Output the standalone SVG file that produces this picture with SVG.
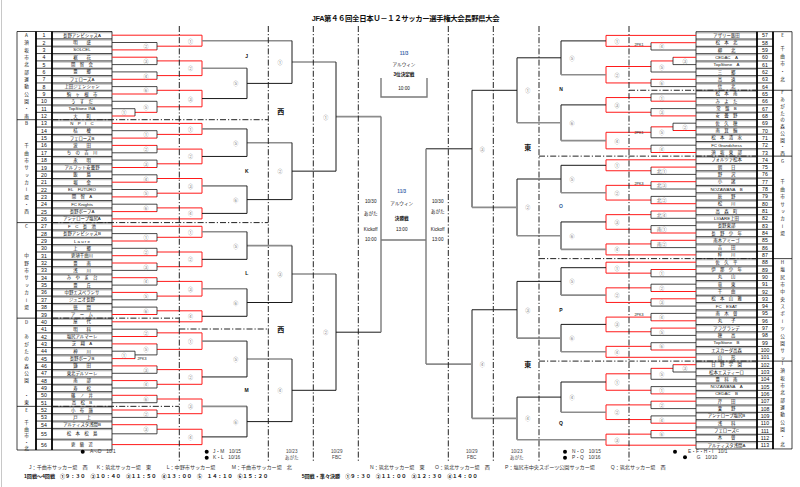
<svg xmlns="http://www.w3.org/2000/svg" width="800" height="487" viewBox="0 0 800 487">
<defs>
<style>
text{font-family:"Liberation Sans","Noto Sans CJK JP",sans-serif;fill:#111}
.no{font-size:5.2px;text-anchor:middle;dominant-baseline:central}
.nm{font-size:4.4px;text-anchor:middle;dominant-baseline:central}
.ml{font-size:5px;text-anchor:middle;dominant-baseline:central;fill:#7a7a7a}
.bl{font-size:5px;font-weight:bold;text-anchor:middle;dominant-baseline:central}
.ks{font-size:7px;font-weight:bold;text-anchor:middle;dominant-baseline:central}
.vt{font-family:"Noto Sans CJK JP",sans-serif;font-size:4.6px;writing-mode:vertical-rl;text-orientation:upright}
.pk{font-size:3.6px;text-anchor:middle;dominant-baseline:central}
.ct{font-size:4.6px;text-anchor:middle;dominant-baseline:central}
.sm{font-size:4.8px;dominant-baseline:central;fill:#333}
.ft{font-size:5.1px;fill:#333}
.fb{font-size:5.1px;font-weight:bold}
.w{fill:none;stroke:#ff1a1a;stroke-width:1}
.l{fill:none;stroke:#1a1a1a;stroke-width:0.8}
.k{fill:none;stroke:#1a1a1a;stroke-width:1}
.g{fill:none;stroke:#8c8c8c;stroke-width:1.6}
.c{fill:none;stroke:#7a7a7a;stroke-width:1.4}
.dd{fill:none;stroke:#222;stroke-width:1;stroke-dasharray:6 2 1.2 2}
.tb{fill:none;stroke:#111;stroke-width:0.8}
.ts{fill:none;stroke:#a8a8a8;stroke-width:0.9}
.tk{fill:none;stroke:#000;stroke-width:1.8}
</style>
</defs>
<rect width="800" height="487" fill="#fff"/>
<path d="M1.5 0V487" stroke="#c8c8c8" stroke-width="1"/>
<text x="311.7" y="21.3" font-size="7.4" font-weight="bold" textLength="188">JFA第４６回全日本Ｕ－１２サッカー選手権大会長野県大会</text>

<g id="table-left">
<path class="ts" transform="translate(0 1.2)" d="M52 31.5H112M52 38.85H112M52 46.2H112M52 53.55H112M52 60.9H112M52 68.25H112M52 75.6H112M52 82.95H112M52 90.3H112M52 97.65H112M52 105H112M52 112.35H112M52 119.7H112M52 127.05H112M52 134.4H112M52 141.75H112M52 149.1H112M52 156.45H112M52 163.8H112M52 171.15H112M52 178.5H112M52 185.85H112M52 193.2H112M52 200.55H112M52 207.9H112M52 215.25H112M52 222.6H112M52 229.95H112M52 237.3H112M52 244.65H112M52 252H112M52 259.35H112M52 266.7H112M52 274.05H112M52 281.4H112M52 288.75H112M52 296.1H112M52 303.45H112M52 310.8H112M52 318.15H112M52 325.5H112M52 332.85H112M52 340.2H112M52 347.55H112M52 354.9H112M52 362.25H112M52 369.6H112M52 376.95H112M52 384.3H112M52 391.65H112M52 399H112M52 406.35H112M52 413.7H112M52 421.05H112M52 428.4H112M52 439.2H112"/>
<path class="tb" d="M36 31.5H112M36 38.85H112M36 46.2H112M36 53.55H112M36 60.9H112M36 68.25H112M36 75.6H112M36 82.95H112M36 90.3H112M36 97.65H112M36 105H112M36 112.35H112M36 119.7H112M36 127.05H112M36 134.4H112M36 141.75H112M36 149.1H112M36 156.45H112M36 163.8H112M36 171.15H112M36 178.5H112M36 185.85H112M36 193.2H112M36 200.55H112M36 207.9H112M36 215.25H112M36 222.6H112M36 229.95H112M36 237.3H112M36 244.65H112M36 252H112M36 259.35H112M36 266.7H112M36 274.05H112M36 281.4H112M36 288.75H112M36 296.1H112M36 303.45H112M36 310.8H112M36 318.15H112M36 325.5H112M36 332.85H112M36 340.2H112M36 347.55H112M36 354.9H112M36 362.25H112M36 369.6H112M36 376.95H112M36 384.3H112M36 391.65H112M36 399H112M36 406.35H112M36 413.7H112M36 421.05H112M36 428.4H112M36 439.2H112M36 450H112M17 31.5H36M17 119.7H36M17 222.6H36M17 318.15H36M17 406.35H36M17 450H36M17 31.5V450M112 31.5V450"/>
<path class="tk" d="M36 31.5V450M52 31.5V450"/>
<text class="vt" x="26.5" y="32.9" letter-spacing="2.75">A須坂市北部運動公園・南</text>
<text class="vt" x="26.5" y="121.1" letter-spacing="2.75">B　　千曲市サッカー場・西</text>
<text class="vt" x="26.5" y="224" letter-spacing="2.75">C　　　中野市サッカー場</text>
<text class="vt" x="26.5" y="319.5" letter-spacing="2.75">D　あがたの森公園　・東</text>
<text class="vt" x="26.5" y="407.7">E</text>
<text class="vt" x="26.5" y="420.4" letter-spacing="1.9">千曲市・北</text>
</g>

<g id="table-right">
<path class="ts" transform="translate(0 1.2)" d="M696 31.7H757M696 39.02H757M696 46.34H757M696 53.66H757M696 60.98H757M696 68.3H757M696 75.62H757M696 82.94H757M696 90.26H757M696 97.58H757M696 104.9H757M696 112.22H757M696 119.54H757M696 126.86H757M696 134.18H757M696 141.5H757M696 148.82H757M696 156.14H757M696 163.46H757M696 170.78H757M696 178.1H757M696 185.42H757M696 192.74H757M696 200.06H757M696 207.38H757M696 214.7H757M696 222.02H757M696 229.34H757M696 236.66H757M696 243.98H757M696 251.3H757M696 258.62H757M696 265.94H757M696 273.26H757M696 280.58H757M696 287.9H757M696 295.22H757M696 302.54H757M696 309.86H757M696 317.18H757M696 324.5H757M696 331.82H757M696 339.14H757M696 346.46H757M696 353.78H757M696 361.1H757M696 368.42H757M696 375.74H757M696 383.06H757M696 390.38H757M696 397.7H757M696 405.02H757M696 412.34H757M696 419.66H757M696 426.98H757M696 434.3H757M696 441.62H757"/>
<path class="tb" d="M696 31.7H773M696 39.02H773M696 46.34H773M696 53.66H773M696 60.98H773M696 68.3H773M696 75.62H773M696 82.94H773M696 90.26H773M696 97.58H773M696 104.9H773M696 112.22H773M696 119.54H773M696 126.86H773M696 134.18H773M696 141.5H773M696 148.82H773M696 156.14H773M696 163.46H773M696 170.78H773M696 178.1H773M696 185.42H773M696 192.74H773M696 200.06H773M696 207.38H773M696 214.7H773M696 222.02H773M696 229.34H773M696 236.66H773M696 243.98H773M696 251.3H773M696 258.62H773M696 265.94H773M696 273.26H773M696 280.58H773M696 287.9H773M696 295.22H773M696 302.54H773M696 309.86H773M696 317.18H773M696 324.5H773M696 331.82H773M696 339.14H773M696 346.46H773M696 353.78H773M696 361.1H773M696 368.42H773M696 375.74H773M696 383.06H773M696 390.38H773M696 397.7H773M696 405.02H773M696 412.34H773M696 419.66H773M696 426.98H773M696 434.3H773M696 441.62H773M696 448.94H773M773 31.7H792M773 90.26H792M773 156.14H792M773 258.62H792M773 361.1H792M773 448.94H792M792 31.7V448.94M696 31.7V448.94"/>
<path class="tk" d="M757 31.7V448.94M773 31.7V448.94"/>
<text class="vt" x="782.5" y="33.1">E</text>
<text class="vt" x="782.5" y="46" letter-spacing="3.1">千曲市・北</text>
<text class="vt" x="782.5" y="90.4" letter-spacing="2.14">Fあがたの森公園・西</text>
<text class="vt" x="782.5" y="158.7">G</text>
<text class="vt" x="782.5" y="179.4" letter-spacing="2.77">千曲市サッカー場</text>
<text class="vt" x="782.5" y="260" letter-spacing="2.75">H塩尻市中央スポーツ公園サッ</text>
<text class="vt" x="782.5" y="361" letter-spacing="2.74">I須坂市北部運動公園・北</text>
</g>

<g id="teams-left">
<g id="t1" transform="translate(0 35.2)"><text class="no" x="44">1</text><text class="nm" x="82">長野アンビシャスA</text></g>
<g id="t2" transform="translate(0 42.5)"><text class="no" x="44">2</text><text class="nm" x="82">明　　盛</text></g>
<g id="t3" transform="translate(0 49.9)"><text class="no" x="44">3</text><text class="nm" x="82">SOLCEL</text></g>
<g id="t4" transform="translate(0 57.2)"><text class="no" x="44">4</text><text class="nm" x="82">裾　　花</text></g>
<g id="t5" transform="translate(0 64.6)"><text class="no" x="44">5</text><text class="nm" x="82">開　智　会</text></g>
<g id="t6" transform="translate(0 71.9)"><text class="no" x="44">6</text><text class="nm" x="82">豊　　郷</text></g>
<g id="t7" transform="translate(0 79.3)"><text class="no" x="44">7</text><text class="nm" x="82">フェローズA</text></g>
<g id="t8" transform="translate(0 86.6)"><text class="no" x="44">8</text><text class="nm" x="82">上田ジェンシャン</text></g>
<g id="t9" transform="translate(0 94)"><text class="no" x="44">9</text><text class="nm" x="82">駒　ヶ　根　市</text></g>
<g id="t10" transform="translate(0 101.3)"><text class="no" x="44">10</text><text class="nm" x="82">う　す　だ</text></g>
<g id="t11" transform="translate(0 108.7)"><text class="no" x="44">11</text><text class="nm" x="82">TopStone INA</text></g>
<g id="t12" transform="translate(0 116)"><text class="no" x="44">12</text><text class="nm" x="82">大　　町</text></g>
<g id="t13" transform="translate(0 123.4)"><text class="no" x="44">13</text><text class="nm" x="82">N　P　I　C</text></g>
<g id="t14" transform="translate(0 130.7)"><text class="no" x="44">14</text><text class="nm" x="82">桔　　梗</text></g>
<g id="t15" transform="translate(0 138.1)"><text class="no" x="44">15</text><text class="nm" x="82">フェローズB</text></g>
<g id="t16" transform="translate(0 145.4)"><text class="no" x="44">16</text><text class="nm" x="82">波　　田</text></g>
<g id="t17" transform="translate(0 152.8)"><text class="no" x="44">17</text><text class="nm" x="82">ち　の　吉　川</text></g>
<g id="t18" transform="translate(0 160.1)"><text class="no" x="44">18</text><text class="nm" x="82">永　　明</text></g>
<g id="t19" transform="translate(0 167.5)"><text class="no" x="44">19</text><text class="nm" x="82">アルフット安曇野</text></g>
<g id="t20" transform="translate(0 174.8)"><text class="no" x="44">20</text><text class="nm" x="82">飯　　島</text></g>
<g id="t21" transform="translate(0 182.2)"><text class="no" x="44">21</text><text class="nm" x="82">堀　　金</text></g>
<g id="t22" transform="translate(0 189.5)"><text class="no" x="44">22</text><text class="nm" x="82">EL　FUTURO</text></g>
<g id="t23" transform="translate(0 196.9)"><text class="no" x="44">23</text><text class="nm" x="82">開　智　A</text></g>
<g id="t24" transform="translate(0 204.2)"><text class="no" x="44">24</text><text class="nm" x="82">FC Knights</text></g>
<g id="t25" transform="translate(0 211.6)"><text class="no" x="44">25</text><text class="nm" x="82">長野ボーフA</text></g>
<g id="t26" transform="translate(0 218.9)"><text class="no" x="44">26</text><text class="nm" x="82">アンテロープ塩尻A</text></g>
<g id="t27" transform="translate(0 226.3)"><text class="no" x="44">27</text><text class="nm" x="82">F　C　長　池</text></g>
<g id="t28" transform="translate(0 233.6)"><text class="no" x="44">28</text><text class="nm" x="82">長野アンビシャスB</text></g>
<g id="t29" transform="translate(0 241)"><text class="no" x="44">29</text><text class="nm" x="82">L a u r e</text></g>
<g id="t30" transform="translate(0 248.3)"><text class="no" x="44">30</text><text class="nm" x="82">上　　郷</text></g>
<g id="t31" transform="translate(0 255.7)"><text class="no" x="44">31</text><text class="nm" x="82">更埴千曲川</text></g>
<g id="t32" transform="translate(0 263)"><text class="no" x="44">32</text><text class="nm" x="82">豊　　南</text></g>
<g id="t33" transform="translate(0 270.4)"><text class="no" x="44">33</text><text class="nm" x="82">浅　　川</text></g>
<g id="t34" transform="translate(0 277.7)"><text class="no" x="44">34</text><text class="nm" x="82">み　や　ま　台</text></g>
<g id="t35" transform="translate(0 285.1)"><text class="no" x="44">35</text><text class="nm" x="82">豊　　丘</text></g>
<g id="t36" transform="translate(0 292.4)"><text class="no" x="44">36</text><text class="nm" x="82">中野エスペランサ</text></g>
<g id="t37" transform="translate(0 299.8)"><text class="no" x="44">37</text><text class="nm" x="82">ジュニオ長野</text></g>
<g id="t38" transform="translate(0 307.1)"><text class="no" x="44">38</text><text class="nm" x="82">徳　　間</text></g>
<g id="t39" transform="translate(0 314.5)"><text class="no" x="44">39</text><text class="nm" x="82">ア　ー　ム</text></g>
<g id="t40" transform="translate(0 321.8)"><text class="no" x="44">40</text><text class="nm" x="82">屋　　代</text></g>
<g id="t41" transform="translate(0 329.2)"><text class="no" x="44">41</text><text class="nm" x="82">明　　科</text></g>
<g id="t42" transform="translate(0 336.5)"><text class="no" x="44">42</text><text class="nm" x="82">塩尻アルマーレ</text></g>
<g id="t43" transform="translate(0 343.9)"><text class="no" x="44">43</text><text class="nm" x="82">芝　翔　A</text></g>
<g id="t44" transform="translate(0 351.2)"><text class="no" x="44">44</text><text class="nm" x="82">神　　川</text></g>
<g id="t45" transform="translate(0 358.6)"><text class="no" x="44">45</text><text class="nm" x="82">長野ボーフB</text></g>
<g id="t46" transform="translate(0 365.9)"><text class="no" x="44">46</text><text class="nm" x="82">鎌　　田</text></g>
<g id="t47" transform="translate(0 373.3)"><text class="no" x="44">47</text><text class="nm" x="82">東北デルソーレ</text></g>
<g id="t48" transform="translate(0 380.6)"><text class="no" x="44">48</text><text class="nm" x="82">南　　部</text></g>
<g id="t49" transform="translate(0 388)"><text class="no" x="44">49</text><text class="nm" x="82">寿　　松</text></g>
<g id="t50" transform="translate(0 395.3)"><text class="no" x="44">50</text><text class="nm" x="82">篠　ノ　井</text></g>
<g id="t51" transform="translate(0 402.7)"><text class="no" x="44">51</text><text class="nm" x="82">高　松　B</text></g>
<g id="t52" transform="translate(0 410)"><text class="no" x="44">52</text><text class="nm" x="82">小　布　施</text></g>
<g id="t53" transform="translate(0 417.4)"><text class="no" x="44">53</text><text class="nm" x="82">戸　　上</text></g>
<g id="t54" transform="translate(0 424.7)"><text class="no" x="44">54</text><text class="nm" x="82">アルティスタ浅間B</text></g>
<g id="t55" transform="translate(0 433.8)"><text class="no" x="44">55</text><text class="nm" x="82">松　本　松　島</text></g>
<g id="t56" transform="translate(0 444.6)"><text class="no" x="44">56</text><text class="nm" x="82">更　級　近</text></g>
</g>

<g id="teams-right">
<g id="t57" transform="translate(0 35.4)"><text class="no" x="765">57</text><text class="nm" x="726.5">アザリー飯田</text></g>
<g id="t58" transform="translate(0 42.7)"><text class="no" x="765">58</text><text class="nm" x="726.5">松　本　北</text></g>
<g id="t59" transform="translate(0 50)"><text class="no" x="765">59</text><text class="nm" x="726.5">柳　　北</text></g>
<g id="t60" transform="translate(0 57.3)"><text class="no" x="765">60</text><text class="nm" x="726.5">CEDAC　A</text></g>
<g id="t61" transform="translate(0 64.6)"><text class="no" x="765">61</text><text class="nm" x="726.5">TopStone　A</text></g>
<g id="t62" transform="translate(0 72)"><text class="no" x="765">62</text><text class="nm" x="726.5">三　　郷</text></g>
<g id="t63" transform="translate(0 79.3)"><text class="no" x="765">63</text><text class="nm" x="726.5">高　　遠</text></g>
<g id="t64" transform="translate(0 86.6)"><text class="no" x="765">64</text><text class="nm" x="726.5">信　　北</text></g>
<g id="t65" transform="translate(0 93.9)"><text class="no" x="765">65</text><text class="nm" x="726.5">松　本　南</text></g>
<g id="t66" transform="translate(0 101.2)"><text class="no" x="765">66</text><text class="nm" x="726.5">み　よ　た</text></g>
<g id="t67" transform="translate(0 108.6)"><text class="no" x="765">67</text><text class="nm" x="726.5">常　盤　B</text></g>
<g id="t68" transform="translate(0 115.9)"><text class="no" x="765">68</text><text class="nm" x="726.5">安　曇　野</text></g>
<g id="t69" transform="translate(0 123.2)"><text class="no" x="765">69</text><text class="nm" x="726.5">佐　久　穂</text></g>
<g id="t70" transform="translate(0 130.5)"><text class="no" x="765">70</text><text class="nm" x="726.5">南　箕　輪</text></g>
<g id="t71" transform="translate(0 137.8)"><text class="no" x="765">71</text><text class="nm" x="726.5">松　本　清　水</text></g>
<g id="t72" transform="translate(0 145.2)"><text class="no" x="765">72</text><text class="nm" x="726.5">FC Grandchess</text></g>
<g id="t73" transform="translate(0 152.5)"><text class="no" x="765">73</text><text class="nm" x="726.5">須　坂　東　部</text></g>
<g id="t74" transform="translate(0 159.8)"><text class="no" x="765">74</text><text class="nm" x="726.5">フォルツァ松本</text></g>
<g id="t75" transform="translate(0 167.1)"><text class="no" x="765">75</text><text class="nm" x="726.5">朝　　日</text></g>
<g id="t76" transform="translate(0 174.4)"><text class="no" x="765">76</text><text class="nm" x="726.5">野　　沢</text></g>
<g id="t77" transform="translate(0 181.7)"><text class="no" x="765">77</text><text class="nm" x="726.5">小　　諸</text></g>
<g id="t78" transform="translate(0 189)"><text class="no" x="765">78</text><text class="nm" x="726.5">NOZAWANA　B</text></g>
<g id="t79" transform="translate(0 196.4)"><text class="no" x="765">79</text><text class="nm" x="726.5">辰　　野</text></g>
<g id="t80" transform="translate(0 203.7)"><text class="no" x="765">80</text><text class="nm" x="726.5">松　　川</text></g>
<g id="t81" transform="translate(0 211)"><text class="no" x="765">81</text><text class="nm" x="726.5">高　森　町</text></g>
<g id="t82" transform="translate(0 218.3)"><text class="no" x="765">82</text><text class="nm" x="726.5">LIGARE上田</text></g>
<g id="t83" transform="translate(0 225.6)"><text class="no" x="765">83</text><text class="nm" x="726.5">長野東部</text></g>
<g id="t84" transform="translate(0 233)"><text class="no" x="765">84</text><text class="nm" x="726.5">長　野　少　年</text></g>
<g id="t85" transform="translate(0 240.3)"><text class="no" x="765">85</text><text class="nm" x="726.5">南木アミーゴ</text></g>
<g id="t86" transform="translate(0 247.6)"><text class="no" x="765">86</text><text class="nm" x="726.5">吉　　田</text></g>
<g id="t87" transform="translate(0 254.9)"><text class="no" x="765">87</text><text class="nm" x="726.5">梓　　川</text></g>
<g id="t88" transform="translate(0 262.2)"><text class="no" x="765">88</text><text class="nm" x="726.5">佐　久　平</text></g>
<g id="t89" transform="translate(0 269.5)"><text class="no" x="765">89</text><text class="nm" x="726.5">伊　那　少　年</text></g>
<g id="t90" transform="translate(0 276.8)"><text class="no" x="765">90</text><text class="nm" x="726.5">丸　　山</text></g>
<g id="t91" transform="translate(0 284.2)"><text class="no" x="765">91</text><text class="nm" x="726.5">竜　　東</text></g>
<g id="t92" transform="translate(0 291.5)"><text class="no" x="765">92</text><text class="nm" x="726.5">千　　曲</text></g>
<g id="t93" transform="translate(0 298.8)"><text class="no" x="765">93</text><text class="nm" x="726.5">松　本　山　雅</text></g>
<g id="t94" transform="translate(0 306.1)"><text class="no" x="765">94</text><text class="nm" x="726.5">FC　ESAT</text></g>
<g id="t95" transform="translate(0 313.4)"><text class="no" x="765">95</text><text class="nm" x="726.5">南　木　曽</text></g>
<g id="t96" transform="translate(0 320.8)"><text class="no" x="765">96</text><text class="nm" x="726.5">丸　　子</text></g>
<g id="t97" transform="translate(0 328.1)"><text class="no" x="765">97</text><text class="nm" x="726.5">アフグランデ</text></g>
<g id="t98" transform="translate(0 335.4)"><text class="no" x="765">98</text><text class="nm" x="726.5">穂　　高</text></g>
<g id="t99" transform="translate(0 342.7)"><text class="no" x="765">99</text><text class="nm" x="726.5">TopStone　B</text></g>
<g id="t100" transform="translate(0 350)"><text class="no" x="765">100</text><text class="nm" x="726.5">エスカーダ高森</text></g>
<g id="t101" transform="translate(0 357.3)"><text class="no" x="765">101</text><text class="nm" x="726.5">山　　形</text></g>
<g id="t102" transform="translate(0 364.7)"><text class="no" x="765">102</text><text class="nm" x="726.5">日　野　学　園</text></g>
<g id="t103" transform="translate(0 372)"><text class="no" x="765">103</text><text class="nm" x="726.5">松本エスティーロ</text></g>
<g id="t104" transform="translate(0 379.3)"><text class="no" x="765">104</text><text class="nm" x="726.5">豊　科　南</text></g>
<g id="t105" transform="translate(0 386.6)"><text class="no" x="765">105</text><text class="nm" x="726.5">NOZAWANA　A</text></g>
<g id="t106" transform="translate(0 393.9)"><text class="no" x="765">106</text><text class="nm" x="726.5">CEDAC　B</text></g>
<g id="t107" transform="translate(0 401.2)"><text class="no" x="765">107</text><text class="nm" x="726.5">芹　　田</text></g>
<g id="t108" transform="translate(0 408.6)"><text class="no" x="765">108</text><text class="nm" x="726.5">栗　　野</text></g>
<g id="t109" transform="translate(0 415.9)"><text class="no" x="765">109</text><text class="nm" x="726.5">アンテロープ塩尻B</text></g>
<g id="t110" transform="translate(0 423.2)"><text class="no" x="765">110</text><text class="nm" x="726.5">浅　　科</text></g>
<g id="t111" transform="translate(0 430.5)"><text class="no" x="765">111</text><text class="nm" x="726.5">フェローズC</text></g>
<g id="t112" transform="translate(0 437.8)"><text class="no" x="765">112</text><text class="nm" x="726.5">木　　曽</text></g>
<g id="t113" transform="translate(0 445.2)"><text class="no" x="765">113</text><text class="nm" x="726.5">アルティスタ浅間A</text></g>
</g>

<g id="connectors">
<path class="w" d="M112 49.9H157M112 57.2H157M112 79.3H157M112 94H157M112 138.1H157M112 145.4H157M112 167.5H157M112 182.2H157M112 196.9H157M112 211.6H157M112 241H157M112 255.7H157M112 263H157M112 277.7H157M112 292.4H157M112 314.5H157M112 336.5H157M112 343.9H157M112 365.9H157M112 380.6H157M112 395.3H157M112 410H157M112 424.7H157M112 116H135M135 112.35H157M112 358.6H135M157 46.2H202M157 60.9H202M157 75.6H202M157 90.3H202M157 106.8H202M157 134.4H202M157 149.1H202M157 163.8H202M157 178.5H202M157 193.2H202M157 207.9H202M157 237.3H202M157 252H202M157 266.7H202M157 281.4H202M157 296.1H202M157 310.8H202M157 332.85H202M157 349.4H202M157 369.6H202M157 384.3H202M157 399H202M157 413.7H202M157 429.25H202M112 35.2H202M112 123.4H202M112 218.9H202M112 226.3H202M112 321.8H202M112 444.6H202M202 35.2V46.2M202 60.9V75.6M202 90.3V106.8M202 123.4V134.4M202 149.1V163.8M202 178.5V193.2M202 207.9V218.9M202 226.3V237.3M202 252V266.7M202 281.4V296.1M202 310.8V321.8M202 332.85V349.4M202 369.6V384.3M202 399V413.7M202 429.25V444.6"/>
<path class="l" d="M112 42.5H157M112 64.6H157M112 71.9H157M112 86.6H157M112 101.3H157M112 130.7H157M112 152.8H157M112 160.1H157M112 174.8H157M112 189.5H157M112 204.2H157M112 233.6H157M112 248.3H157M112 270.4H157M112 285.1H157M112 299.8H157M112 307.1H157M112 329.2H157M112 373.3H157M112 388H157M112 402.7H157M112 417.4H157M112 433.8H157M112 108.7H135M112 351.2H135M135 354.9H157M157 42.5V49.9M157 57.2V64.6M157 71.9V79.3M157 86.6V94M157 101.3V112.35M157 130.7V138.1M157 145.4V152.8M157 160.1V167.5M157 174.8V182.2M157 189.5V196.9M157 204.2V211.6M157 233.6V241M157 248.3V255.7M157 263V270.4M157 277.7V285.1M157 292.4V299.8M157 307.1V314.5M157 329.2V336.5M157 343.9V354.9M157 365.9V373.3M157 380.6V388M157 395.3V402.7M157 410V417.4M157 424.7V433.8M135 108.7V116M135 351.2V358.6"/>
<path class="g" d="M202 68.25H247M202 128.9H247M202 185.85H247M202 231.8H247M202 288.75H247M202 341.1H247M202 406.35H247M202 40.7H292M247 142.7H292M247 245.6H292M247 359H292M292 62.05H336M292 274.05H336M336 116.6H381"/>
<path class="k" d="M202 98.55H247M202 156.45H247M202 213.4H247M202 259.35H247M202 316.3H247M202 376.95H247M202 436.9H247M247 68.25V98.55M247 128.9V156.45M247 185.85V213.4M247 231.8V259.35M247 288.75V316.3M247 341.1V376.95M247 406.35V436.9M247 83.4H292M247 199.6H292M247 302.5H292M247 421.6H292M292 40.7V83.4M292 142.7V199.6M292 245.6V302.5M292 359V421.6M292 171.15H336M292 390.3H336M336 62.05V171.15M336 274.05V390.3M336 332.2H381"/>
<path class="w" d="M696 42.7H651M696 79.3H651M696 101.2H651M696 115.9H651M696 152.5H651M696 167.1H651M696 181.7H651M696 203.7H651M696 211H651M696 233H651M696 240.3H651M696 269.5H651M696 291.5H651M696 298.8H651M696 320.8H651M696 328.1H651M696 350H651M696 393.9H651M696 401.2H651M696 423.2H651M696 430.5H651M696 57.3H673M673 60.95H651M696 130.5H673M673 126.85H651M696 364.7H673M673 368.35H651M651 46.35H606M651 66.5H606M651 82.95H606M651 97.55H606M651 112.25H606M651 132.3H606M651 148.85H606M651 170.75H606M651 185.35H606M651 200.05H606M651 214.65H606M651 229.3H606M651 243.95H606M651 273.15H606M651 287.85H606M651 302.45H606M651 317.1H606M651 331.75H606M651 346.35H606M651 373.8H606M651 390.25H606M651 404.9H606M651 419.55H606M651 434.15H606M696 35.4H606M696 159.8H606M696 254.9H606M696 262.2H606M696 357.3H606M696 445.2H606M606 35.4V46.35M606 66.5V82.95M606 97.55V112.25M606 132.3V148.85M606 159.8V170.75M606 185.35V200.05M606 214.65V229.3M606 243.95V254.9M606 262.2V273.15M606 287.85V302.45M606 317.1V331.75M606 346.35V357.3M606 373.8V390.25M606 404.9V419.55M606 434.15V445.2"/>
<path class="l" d="M696 50H651M696 72H651M696 86.6H651M696 93.9H651M696 108.6H651M696 137.8H651M696 145.2H651M696 174.4H651M696 189H651M696 196.4H651M696 218.3H651M696 225.6H651M696 247.6H651M696 276.8H651M696 284.2H651M696 306.1H651M696 313.4H651M696 335.4H651M696 342.7H651M696 379.3H651M696 386.6H651M696 408.6H651M696 415.9H651M696 437.8H651M696 64.6H673M696 123.2H673M696 372H673M651 42.7V50M651 60.95V72M651 79.3V86.6M651 93.9V101.2M651 108.6V115.9M651 126.85V137.8M651 145.2V152.5M651 167.1V174.4M651 181.7V189M651 196.4V203.7M651 211V218.3M651 225.6V233M651 240.3V247.6M651 269.5V276.8M651 284.2V291.5M651 298.8V306.1M651 313.4V320.8M651 328.1V335.4M651 342.7V350M651 368.35V379.3M651 386.6V393.9M651 401.2V408.6M651 415.9V423.2M651 430.5V437.8M673 57.3V64.6M673 123.2V130.5M673 364.7V372"/>
<path class="k" d="M606 40.9H561M606 104.9H561M606 165.3H561M606 221.95H561M606 267.7H561M606 324.4H561M606 382H561M561 40.9V74.7M561 104.9V140.6M561 165.3V192.7M561 221.95V249.4M561 267.7V295.15M561 324.4V351.8M561 382V412.2M561 57.8H517M561 179H517M561 281.4H517M561 397.1H517M517 57.8V122.75M517 179V235.7M517 281.4V338.1M517 397.1V439.7M517 90.3H472M517 309.75H472M472 90.3V207.35M472 309.75V418.4M472 148.8H426"/>
<path class="g" d="M606 74.7H561M606 140.6H561M606 192.7H561M606 249.4H561M606 295.15H561M606 351.8H561M606 412.2H561M561 122.75H517M561 235.7H517M561 338.1H517M606 439.7H517M517 207.35H472M517 418.4H472M472 364.1H426"/>
<path class="c" d="M381 116.6V332.2M426 148.8V364.1M381 240H426M381 78V97H427V78"/>
</g>

<g id="dividers">
<path class="dd" d="M179.3 26V462M268.3 26V462M313.3 26V462M358.3 26V462M448.3 26V462M493.3 26V462M539 26V462M629 26V462"/>
<path class="dd" d="M52 119.7H268.3M52 222.6H268.3M52 318.15H179.3M179.3 329H268.3M52 406.35H179.3M629 90.26H757M539 156.14H757M539 258.62H757M539 361.1H757"/>
</g>

<g id="match-labels">
<text class="ml" x="146" y="46.2">②</text><text class="ml" x="146" y="60.9">③</text><text class="ml" x="146" y="75.6">④</text><text class="ml" x="146" y="90.3">⑥</text><text class="ml" x="146" y="106.8">⑤</text><text class="ml" x="124" y="112.35">①</text>
<text class="ml" x="146" y="134.4">①</text><text class="ml" x="146" y="149.1">②</text><text class="ml" x="146" y="163.8">③</text><text class="ml" x="146" y="178.5">④</text><text class="ml" x="146" y="193.2">⑤</text><text class="ml" x="146" y="207.9">⑥</text>
<text class="ml" x="146" y="237.3">①</text><text class="ml" x="146" y="252">②</text><text class="ml" x="146" y="266.7">③</text><text class="ml" x="146" y="281.4">④</text><text class="ml" x="146" y="296.1">⑤</text><text class="ml" x="146" y="310.8">⑥</text>
<text class="ml" x="146" y="332.85">②</text><text class="ml" x="124" y="354.9">①</text><text class="ml" x="146" y="349.4">⑤</text><text class="ml" x="146" y="369.6">③</text><text class="ml" x="146" y="384.3">④</text><text class="ml" x="146" y="399">⑥</text><text class="ml" x="146" y="413.7">②</text><text class="ml" x="146" y="429.25">③</text>
<text class="ml" x="190.5" y="40.7">①</text><text class="ml" x="190.5" y="68.25">②</text><text class="ml" x="190.5" y="98.55">③</text>
<text class="ml" x="190.5" y="128.9">①</text><text class="ml" x="190.5" y="156.45">②</text><text class="ml" x="190.5" y="185.85">③</text><text class="ml" x="190.5" y="213.4">④</text>
<text class="ml" x="190.5" y="231.8">①</text><text class="ml" x="190.5" y="259.35">②</text><text class="ml" x="190.5" y="288.75">③</text><text class="ml" x="190.5" y="316.3">④</text>
<text class="ml" x="190.5" y="341.1">①</text><text class="ml" x="190.5" y="376.95">②</text><text class="ml" x="190.5" y="406.35">③</text><text class="ml" x="190.5" y="436.9">④</text>
<text class="ml" x="235.7" y="83.4">⑤</text><text class="ml" x="235.7" y="142.7">⑤</text><text class="ml" x="235.7" y="199.6">⑥</text><text class="ml" x="235.7" y="245.6">⑤</text><text class="ml" x="235.7" y="302.5">⑥</text><text class="ml" x="235.7" y="359">⑤</text><text class="ml" x="235.7" y="421.6">⑥</text>
<text class="ml" x="280" y="62.05">①</text><text class="ml" x="280" y="171.15">②</text><text class="ml" x="280" y="274.05">③</text><text class="ml" x="280" y="390.3">④</text>
<text class="ml" x="325.7" y="116.6">①</text><text class="ml" x="325.7" y="332.2">②</text>
<text class="ml" x="661.7" y="46.35">④</text><text class="ml" x="685" y="60.95">③</text><text class="ml" x="661.7" y="66.5">⑤</text><text class="ml" x="661.7" y="82.95">⑥</text>
<text class="ml" x="661.7" y="97.55">①</text><text class="ml" x="661.7" y="112.25">③</text><text class="ml" x="685" y="126.85">②</text><text class="ml" x="661.7" y="132.3">⑤</text><text class="ml" x="661.7" y="148.85">④</text>
<text class="ml" x="661.7" y="170.75">北①</text><text class="ml" x="661.7" y="185.35">北③</text><text class="ml" x="661.7" y="200.05">北②</text><text class="ml" x="661.7" y="214.65">北④</text><text class="ml" x="661.7" y="229.3">南①</text><text class="ml" x="661.7" y="243.95">南②</text>
<text class="ml" x="661.7" y="273.15">①</text><text class="ml" x="661.7" y="287.85">②</text><text class="ml" x="661.7" y="302.45">③</text><text class="ml" x="661.7" y="317.1">④</text><text class="ml" x="661.7" y="331.75">⑤</text><text class="ml" x="661.7" y="346.35">⑥</text>
<text class="ml" x="685" y="368.35">③</text><text class="ml" x="661.7" y="373.8">⑤</text><text class="ml" x="661.7" y="390.25">①</text><text class="ml" x="661.7" y="404.9">②</text><text class="ml" x="661.7" y="419.55">④</text><text class="ml" x="661.7" y="434.15">⑥</text>
<text class="ml" x="617" y="40.9">①</text><text class="ml" x="617" y="74.7">②</text><text class="ml" x="617" y="104.9">③</text><text class="ml" x="617" y="140.6">④</text>
<text class="ml" x="617" y="165.3">①</text><text class="ml" x="617" y="192.7">②</text><text class="ml" x="617" y="221.95">③</text><text class="ml" x="617" y="249.4">④</text>
<text class="ml" x="617" y="267.7">①</text><text class="ml" x="617" y="295.15">②</text><text class="ml" x="617" y="324.4">③</text><text class="ml" x="617" y="351.8">④</text>
<text class="ml" x="617" y="382">①</text><text class="ml" x="617" y="412.2">②</text><text class="ml" x="617" y="439.7">③</text>
<text class="ml" x="572" y="57.8">⑤</text><text class="ml" x="572" y="122.75">⑥</text><text class="ml" x="572" y="179">⑤</text><text class="ml" x="572" y="235.7">⑥</text><text class="ml" x="572" y="281.4">⑤</text><text class="ml" x="572" y="338.1">⑥</text><text class="ml" x="572" y="397.1">④</text>
<text class="ml" x="527.7" y="90.3">①</text><text class="ml" x="527.7" y="207.35">②</text><text class="ml" x="527.7" y="309.75">③</text><text class="ml" x="527.7" y="418.4">④</text>
<text class="ml" x="482.3" y="148.8">③</text><text class="ml" x="482.3" y="364.1">④</text>
<text class="pk" x="142" y="358.5">2PK3</text>
<text class="pk" x="639" y="45">2PK1</text><text class="pk" x="639" y="133.3">2PK1</text><text class="pk" x="639" y="184">2PK3</text><text class="pk" x="639" y="315">2PK3</text>
</g>

<g id="block-labels">
<text class="bl" x="246.7" y="55.7">J</text><text class="bl" x="246.7" y="170.7">K</text><text class="bl" x="246.7" y="273.3">L</text><text class="bl" x="246.7" y="390">M</text>
<text class="bl" x="561" y="89">N</text><text class="bl" x="561" y="206" style="fill:#35609a">O</text><text class="bl" x="561" y="310">P</text><text class="bl" x="561" y="423.3">Q</text>
<text class="ks" x="280.7" y="111.7">西</text><text class="ks" x="280.7" y="329">西</text>
<text class="ks" x="527.7" y="147.7">東</text><text class="ks" x="527.7" y="364">東</text>
</g>

<g id="center">
<text class="ct" x="404" y="53" style="fill:#3a64a8;font-weight:bold">11/3</text>
<text class="ct" x="404" y="64">アルウィン</text>
<text class="ct" x="404" y="74.5" style="font-weight:bold">3位決定戦</text>
<text class="ct" x="404" y="88.5">10:00</text>
<text class="ct" x="401.7" y="191" style="fill:#3a64a8;font-weight:bold">11/3</text>
<text class="ct" x="401.7" y="203.7">アルウィン</text>
<text class="ct" x="401.7" y="218" style="font-weight:bold">決勝戦</text>
<text class="ct" x="401.7" y="229.7">13:00</text>
<text class="ct" x="370.7" y="201.7">10/30</text><text class="ct" x="370.7" y="213">あがた</text><text class="ct" x="370.7" y="229">Kickoff</text><text class="ct" x="370.7" y="239">10:00</text>
<text class="ct" x="437.7" y="201.7">10/30</text><text class="ct" x="437.7" y="211.5">あがた</text><text class="ct" x="437.7" y="229">Kickoff</text><text class="ct" x="437.7" y="239">13:00</text>
</g>

<g id="footer">
<text class="ct" x="291.7" y="451.7" style="fill:#444">10/23</text><text class="ct" x="291.7" y="457.7" style="fill:#444">あがた</text>
<text class="ct" x="336.7" y="451.7" style="fill:#444">10/29</text><text class="ct" x="336.7" y="457.7" style="fill:#444">FBC</text>
<text class="ct" x="471.7" y="451.7" style="fill:#444">10/29</text><text class="ct" x="471.7" y="457.7" style="fill:#444">FBC</text>
<text class="ct" x="516.7" y="451.7" style="fill:#444">10/23</text><text class="ct" x="516.7" y="457.7" style="fill:#444">あがた</text>
<circle cx="82.7" cy="451.7" r="2"/><text class="sm" x="90" y="451.7">A〜D　10/1</text>
<circle cx="206.7" cy="451.7" r="2"/><text class="sm" x="213" y="451.7">J・M　10/15</text>
<circle cx="206.7" cy="457.7" r="2"/><text class="sm" x="213" y="457.7">K・L　10/16</text>
<circle cx="565" cy="451.7" r="2"/><text class="sm" x="572" y="451.7">N・O　10/15</text>
<circle cx="565" cy="457.7" r="2"/><text class="sm" x="572" y="457.7">P・Q　10/16</text>
<circle cx="675" cy="451.7" r="2"/><text class="sm" x="688" y="451.7">E・F・H・I　10/1</text>
<circle cx="685" cy="457.2" r="2"/><text class="sm" x="696.7" y="457.2">G　10/10</text>
<text class="ft" x="29" y="469">J：千曲市サッカー場　西</text>
<text class="ft" x="96.7" y="469">K：筑北サッカー場　東</text>
<text class="ft" x="166.7" y="469">L：中野市サッカー場</text>
<text class="ft" x="231.7" y="469">M：千曲市サッカー場　北</text>
<text class="ft" x="370" y="469">N：筑北サッカー場　東</text>
<text class="ft" x="435" y="469">O：筑北サッカー場　西</text>
<text class="ft" x="505" y="469">P：塩尻市中央スポーツ公園サッカー場</text>
<text class="ft" x="610.7" y="469">Q：筑北サッカー場　西</text>
<text class="fb" x="24" y="478" textLength="244">1回戦～4回戦　①９：３０　②１０：４０　③１１：５０　④１３：００　⑤　１４：１０　⑥１５：２０</text>
<text class="fb" x="301.7" y="478" textLength="176">5回戦・準々決勝　①９：３０　②１１：００　③１２：３０　④１４：００</text>
</g>
</svg>
